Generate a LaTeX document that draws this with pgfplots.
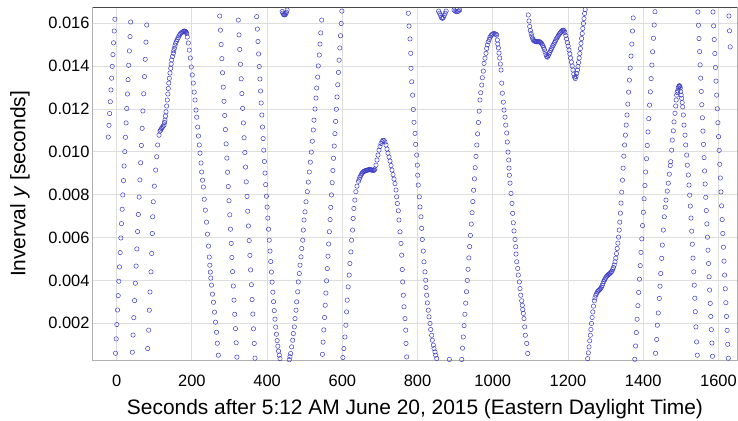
\documentclass[border=0pt]{standalone}
\usepackage{fontspec}
\setmainfont{Liberation Sans}
\usepackage{pgfplots}
\pgfplotsset{compat=1.18}
\definecolor{ptc}{RGB}{60,60,195}
\definecolor{gridc}{RGB}{222,222,222}
\definecolor{framec}{RGB}{175,175,175}
\definecolor{topc}{RGB}{70,70,70}
\begin{document}
\begin{tikzpicture}
\useasboundingbox (0,0) rectangle (738bp,421bp);
\begin{axis}[
  at={(92.7bp,61bp)}, anchor=south west,
  scale only axis, width=644.6bp, height=352.7bp,
  xmin=-63.8, xmax=1650.2, ymin=0.000286, ymax=0.016747,
  xtick={0,200,400,600,800,1000,1200,1400,1600},
  xticklabels={0,200,400,600,800,1000,1200,1400,1600},
  ytick={0.002,0.004,0.006,0.008,0.010,0.012,0.014,0.016},
  yticklabels={0.002,0.004,0.006,0.008,0.010,0.012,0.014,0.016},
  scaled ticks=false,
  major tick length=0pt,
  grid=major, major grid style={draw=gridc, line width=0.9bp},
  axis line style={draw=framec, line width=0.9bp},
  tick label style={font=\fontsize{16.5}{18}\selectfont},
  xticklabel style={anchor=base, yshift=-27bp, inner sep=0pt},
  yticklabel style={anchor=east, xshift=-3bp, inner sep=0pt},
]
\addplot[only marks, mark=o, mark size=2.2pt, mark options={draw=ptc, line width=0.5pt}] coordinates {
(-22.3,0.01069)(-20.5,0.01124)(-18.8,0.01179)(-17.0,0.01234)(-15.3,0.01289)(-13.5,0.01344)(-11.8,0.01399)(-10.0,0.01454)(-8.3,0.01509)(-6.5,0.01564)(-4.8,0.01619)
(-3.0,0.00060)(-1.3,0.00127)(0.5,0.00194)(2.2,0.00262)(4.0,0.00329)(5.7,0.00396)(7.5,0.00463)(9.2,0.00530)(11.0,0.00598)(12.7,0.00665)(14.5,0.00732)(16.2,0.00799)(18.0,0.00866)(19.7,0.00934)(21.5,0.01001)(23.2,0.01068)(25.0,0.01135)(26.7,0.01202)(28.5,0.01270)(30.2,0.01337)(32.0,0.01404)(33.7,0.01471)(35.5,0.01538)(37.2,0.01606)
(41.5,0.00065)(43.5,0.00145)(45.5,0.00226)(47.6,0.00306)(49.6,0.00387)(51.6,0.00467)(53.6,0.00547)(55.6,0.00628)(57.6,0.00708)(59.7,0.00789)(61.7,0.00869)(63.7,0.00949)(65.7,0.01030)(67.7,0.01110)(69.7,0.01191)(71.8,0.01271)(73.8,0.01351)(75.8,0.01432)(77.8,0.01512)(79.8,0.01592)
(82.4,0.00082)(85.1,0.00168)(86.7,0.00261)(88.5,0.00346)(91.2,0.00440)(93.1,0.00526)(94.7,0.00619)(95.7,0.00697)(97.3,0.00767)(100.0,0.00840)(103.7,0.00915)(106.4,0.00977)(109.0,0.01032)(112.5,0.01078)(115.1,0.01097)(117.0,0.01102)(119.1,0.01109)(121.2,0.01114)(123.1,0.01120)(125.8,0.01125)(127.1,0.01137)(128.4,0.01148)(129.8,0.01167)(131.1,0.01187)(132.9,0.01214)(134.5,0.01242)(135.9,0.01270)(137.2,0.01296)(138.5,0.01321)(139.9,0.01343)(141.7,0.01368)(143.6,0.01390)(144.9,0.01410)(146.2,0.01429)(148.4,0.01445)(150.5,0.01460)(151.8,0.01472)(153.2,0.01483)(155.0,0.01495)(156.9,0.01507)(159.0,0.01516)(161.1,0.01525)(163.5,0.01533)(165.7,0.01541)(167.8,0.01547)(170.2,0.01553)(172.8,0.01557)(175.5,0.01559)(177.6,0.01562)(179.8,0.01564)(181.6,0.01563)(183.5,0.01561)(184.8,0.01557)(186.1,0.01553)
(187.7,0.01536)(190.4,0.01508)(193.0,0.01475)(195.7,0.01438)(198.4,0.01396)(201.0,0.01359)(203.7,0.01321)(206.1,0.01279)(208.2,0.01242)(210.9,0.01195)(212.7,0.01162)(215.4,0.01116)(217.5,0.01074)(219.6,0.01032)(221.5,0.00994)(224.2,0.00948)(226.0,0.00906)(228.2,0.00868)(230.3,0.00836)(232.9,0.00779)(235.6,0.00728)(238.8,0.00672)(241.4,0.00616)(244.1,0.00560)(246.2,0.00509)(247.6,0.00471)(248.9,0.00439)(250.2,0.00411)(252.1,0.00378)(254.7,0.00336)(257.4,0.00298)(260.1,0.00252)(262.7,0.00205)(265.4,0.00158)(267.5,0.00107)(270.2,0.00051)
(273.9,0.01634)(275.8,0.01568)(277.7,0.01501)(279.6,0.01435)(281.5,0.01369)(283.4,0.01302)(285.3,0.01236)(287.2,0.01170)(289.1,0.01104)(291.0,0.01037)(292.9,0.00971)(294.8,0.00905)(296.7,0.00838)(298.7,0.00772)(300.6,0.00706)(302.5,0.00639)(304.4,0.00573)(306.3,0.00507)(308.2,0.00441)(310.1,0.00374)(312.0,0.00308)(313.9,0.00242)(315.8,0.00175)(317.7,0.00109)(319.6,0.00042)
(323.3,0.01615)(325.2,0.01546)(327.2,0.01478)(329.1,0.01409)(331.0,0.01341)(332.9,0.01272)(334.9,0.01203)(336.8,0.01135)(338.7,0.01066)(340.7,0.00997)(342.6,0.00929)(344.5,0.00860)(346.5,0.00792)(348.4,0.00723)(350.3,0.00654)(352.3,0.00586)(354.2,0.00517)(356.1,0.00449)(358.1,0.00380)(360.0,0.00311)(361.9,0.00243)(363.8,0.00174)(365.8,0.00106)(367.7,0.00037)
(372.3,0.01631)(374.0,0.01573)(375.7,0.01515)(377.4,0.01457)(379.1,0.01398)(380.8,0.01340)(382.5,0.01284)(384.2,0.01228)(385.9,0.01172)(387.6,0.01116)(389.3,0.01062)(391.0,0.01008)(392.7,0.00955)(394.4,0.00901)
(396.2,0.00847)(398.1,0.00793)(400.0,0.00742)(401.9,0.00691)(403.8,0.00639)(405.7,0.00588)(407.6,0.00537)(409.5,0.00488)(411.4,0.00439)(413.3,0.00392)(415.2,0.00345)(417.1,0.00301)(419.0,0.00259)(420.9,0.00219)(422.8,0.00182)(424.7,0.00149)(426.6,0.00119)(428.5,0.00093)(430.4,0.00070)(432.3,0.00051)(434.2,0.00035)
(439.9,0.01655)(441.8,0.01647)(443.7,0.01641)(445.6,0.01639)(447.5,0.01640)(449.4,0.01644)(451.3,0.01651)(453.2,0.01662)
(458.9,0.00030)(460.7,0.00044)(462.6,0.00059)(465.3,0.00090)(468.0,0.00121)(469.6,0.00152)(472.3,0.00183)(474.1,0.00222)(476.8,0.00261)(478.6,0.00300)(481.3,0.00347)(482.9,0.00393)(485.6,0.00432)(487.4,0.00471)(490.1,0.00510)(492.0,0.00549)(494.6,0.00588)(496.2,0.00635)(498.1,0.00682)(500.7,0.00720)(503.4,0.00767)(506.8,0.00814)(509.5,0.00859)(512.1,0.00906)(514.8,0.00952)(517.5,0.00999)(520.1,0.01050)(522.8,0.01102)(524.6,0.01148)(527.3,0.01200)(529.9,0.01251)(531.8,0.01298)(534.5,0.01349)(536.1,0.01401)(538.7,0.01452)(540.6,0.01503)(542.5,0.01555)(545.1,0.01615)
(547.0,0.00055)(548.9,0.00112)(550.7,0.00169)(552.6,0.00227)(554.4,0.00284)(556.3,0.00341)(558.1,0.00398)(560.0,0.00455)(561.8,0.00513)(563.7,0.00570)(565.5,0.00627)(567.4,0.00684)(569.2,0.00741)(571.1,0.00799)(572.9,0.00856)(574.8,0.00913)(576.6,0.00970)(578.5,0.01027)(580.3,0.01085)(582.2,0.01142)(584.0,0.01199)(585.9,0.01256)(587.7,0.01313)(589.6,0.01371)(591.4,0.01428)(593.3,0.01485)(595.1,0.01542)(597.0,0.01599)(598.8,0.01657)
(601.5,0.00040)(604.1,0.00082)(606.8,0.00136)(609.4,0.00191)(611.3,0.00253)(612.9,0.00308)(615.5,0.00370)(618.2,0.00425)(620.0,0.00479)(622.7,0.00533)(624.6,0.00588)(627.2,0.00635)(628.8,0.00689)(630.7,0.00736)(633.3,0.00775)(636.0,0.00814)
(638.9,0.00840)(642.9,0.00863)(644.9,0.00873)(646.9,0.00882)(648.9,0.00889)(650.9,0.00896)(652.9,0.00901)(654.9,0.00906)(656.9,0.00908)(658.9,0.00910)(660.9,0.00912)(662.9,0.00913)(664.9,0.00914)(666.9,0.00915)(668.9,0.00916)(670.9,0.00917)(672.9,0.00917)(674.9,0.00917)(676.9,0.00916)(678.9,0.00915)(680.9,0.00914)(682.9,0.00913)(684.9,0.00915)(686.8,0.00920)(689.5,0.00938)(692.2,0.00962)(694.8,0.00985)(697.5,0.01008)(700.1,0.01025)(702.8,0.01039)(705.4,0.01048)(708.1,0.01054)(710.8,0.01053)(713.4,0.01046)(716.1,0.01032)(718.7,0.01013)(721.4,0.00994)(724.1,0.00976)(726.7,0.00957)(729.4,0.00936)(732.1,0.00915)(734.7,0.00894)(737.4,0.00873)(740.0,0.00852)(742.7,0.00822)(744.5,0.00790)(746.1,0.00759)(748.8,0.00725)(750.6,0.00682)(753.3,0.00627)(755.9,0.00573)(757.8,0.00518)(759.4,0.00451)(760.5,0.00393)(762.1,0.00331)(763.9,0.00277)(766.6,0.00222)(768.5,0.00168)(769.3,0.00106)(771.1,0.00043)
(775.4,0.01647)(777.2,0.01587)(779.9,0.01527)(781.8,0.01460)(782.5,0.01390)(784.4,0.01327)(787.0,0.01265)(788.7,0.01198)(790.5,0.01138)(793.2,0.01086)(795.0,0.01035)(797.7,0.00985)(799.3,0.00938)(800.4,0.00891)(801.9,0.00845)(804.6,0.00790)(806.5,0.00743)(809.1,0.00697)(811.0,0.00643)(812.6,0.00591)(815.3,0.00537)(817.1,0.00487)(819.8,0.00440)(821.7,0.00401)(822.4,0.00367)(824.3,0.00331)(825.9,0.00295)(828.5,0.00261)(830.4,0.00230)(833.1,0.00199)(834.9,0.00171)(837.6,0.00144)(839.2,0.00121)(841.9,0.00098)(843.7,0.00082)(846.4,0.00066)(848.2,0.00051)(850.9,0.00036)
(856.0,0.01657)(858.5,0.01647)(861.0,0.01637)(863.5,0.01627)(866.0,0.01623)(868.5,0.01627)(871.0,0.01637)(873.5,0.01647)(876.0,0.01657)(884.5,0.00031)(897.0,0.01662)(900.0,0.01657)(903.0,0.01655)(906.0,0.01655)(909.0,0.01657)(912.0,0.01662)
(917.4,0.00031)(919.5,0.00084)(921.6,0.00136)(923.7,0.00189)(925.9,0.00242)(928.0,0.00294)(930.1,0.00347)(932.2,0.00400)(934.3,0.00452)(936.4,0.00505)(938.5,0.00558)(940.6,0.00610)(942.8,0.00663)(944.9,0.00716)(947.0,0.00768)(949.1,0.00821)(951.2,0.00874)(953.3,0.00926)(955.4,0.00979)(957.5,0.01032)(959.7,0.01084)(961.8,0.01137)(963.9,0.01190)(966.0,0.01242)
(967.9,0.01276)(970.6,0.01312)(972.2,0.01346)(974.8,0.01377)(976.7,0.01413)(979.3,0.01437)(982.0,0.01460)(983.8,0.01483)(985.4,0.01499)(988.1,0.01514)(990.7,0.01525)(992.6,0.01535)(995.3,0.01542)(997.1,0.01547)(999.8,0.01550)(1003.2,0.01553)(1005.9,0.01550)(1008.6,0.01549)(1010.4,0.01545)
(1012.1,0.01522)(1013.4,0.01503)(1014.8,0.01485)(1016.6,0.01461)(1018.5,0.01438)(1020.1,0.01410)(1021.9,0.01382)(1023.8,0.01321)(1025.3,0.01274)(1028.0,0.01232)(1029.9,0.01195)(1032.5,0.01162)(1034.4,0.01125)(1037.1,0.01088)(1038.6,0.01046)(1040.5,0.00999)(1042.4,0.00962)(1043.2,0.00924)(1044.0,0.00891)(1045.8,0.00854)(1048.5,0.00806)(1051.2,0.00759)(1053.0,0.00713)(1054.6,0.00669)(1056.5,0.00631)(1059.1,0.00591)(1061.0,0.00557)(1061.8,0.00523)(1063.7,0.00487)(1066.3,0.00456)(1067.9,0.00425)(1070.6,0.00393)(1072.4,0.00362)(1074.3,0.00331)(1076.9,0.00305)(1078.5,0.00284)(1079.6,0.00264)(1081.2,0.00246)(1083.0,0.00222)(1084.9,0.00183)(1086.5,0.00144)(1090.2,0.00106)(1092.9,0.00059)
(1094.4,0.01639)(1096.3,0.01611)(1098.2,0.01585)(1100.0,0.01566)(1101.9,0.01552)(1103.8,0.01541)(1105.6,0.01530)(1107.5,0.01523)(1109.6,0.01519)(1111.7,0.01516)(1113.9,0.01515)(1116.0,0.01514)(1118.1,0.01514)(1120.2,0.01514)(1122.4,0.01514)(1124.5,0.01514)(1126.6,0.01511)(1128.8,0.01508)(1130.9,0.01503)(1133.0,0.01496)(1135.1,0.01488)(1137.3,0.01478)(1139.4,0.01466)(1141.5,0.01454)(1143.4,0.01445)(1145.2,0.01442)(1147.4,0.01449)(1149.5,0.01457)(1151.6,0.01464)(1153.8,0.01473)(1155.9,0.01481)(1158.0,0.01489)(1160.1,0.01496)(1162.3,0.01503)(1164.4,0.01511)(1166.5,0.01518)(1168.6,0.01526)(1170.8,0.01532)(1172.9,0.01538)(1175.0,0.01545)(1177.1,0.01550)(1179.3,0.01555)(1181.4,0.01559)(1183.5,0.01564)(1185.7,0.01567)(1187.8,0.01568)(1189.9,0.01565)(1192.0,0.01557)(1194.2,0.01543)(1196.3,0.01527)(1198.4,0.01510)(1200.5,0.01494)(1202.7,0.01475)(1204.8,0.01457)(1206.9,0.01438)(1209.1,0.01419)(1211.2,0.01401)(1213.3,0.01382)(1215.4,0.01363)(1217.6,0.01349)(1219.4,0.01342)(1221.3,0.01352)(1223.1,0.01366)(1225.0,0.01382)(1226.6,0.01398)(1228.2,0.01417)(1229.8,0.01438)(1231.4,0.01459)(1233.0,0.01482)(1234.6,0.01506)(1236.2,0.01529)(1237.8,0.01552)(1239.4,0.01576)(1241.0,0.01599)(1242.6,0.01622)(1244.2,0.01646)(1245.7,0.01664)
(1252.4,0.00035)(1254.0,0.00062)(1255.9,0.00090)(1257.7,0.00118)(1259.3,0.00144)(1260.9,0.00171)(1262.5,0.00199)(1264.1,0.00227)(1266.0,0.00253)(1267.8,0.00280)(1270.0,0.00305)(1271.8,0.00319)(1273.9,0.00331)(1276.1,0.00339)(1278.2,0.00346)(1280.3,0.00351)(1282.4,0.00354)(1284.6,0.00358)(1286.7,0.00362)(1288.8,0.00368)(1291.0,0.00377)(1293.1,0.00386)(1295.2,0.00395)(1297.3,0.00403)(1299.5,0.00410)(1301.6,0.00416)(1303.7,0.00421)(1305.8,0.00425)(1308.0,0.00428)(1310.1,0.00431)(1312.2,0.00434)(1314.3,0.00438)(1316.5,0.00442)(1318.6,0.00450)(1320.7,0.00460)(1322.9,0.00472)(1325.0,0.00487)(1327.1,0.00504)(1329.0,0.00525)(1330.8,0.00549)(1332.7,0.00574)(1334.6,0.00602)(1336.2,0.00635)(1337.7,0.00672)(1339.3,0.00714)(1340.9,0.00761)(1342.8,0.00812)(1344.7,0.00868)(1346.5,0.00924)(1348.4,0.00980)(1350.5,0.01032)(1352.6,0.01078)(1354.8,0.01125)(1356.9,0.01172)(1359.0,0.01223)(1361.1,0.01279)(1363.3,0.01335)(1365.4,0.01391)(1367.5,0.01447)(1369.7,0.01503)(1371.5,0.01564)(1373.4,0.01625)
(1377.6,0.00032)(1379.7,0.00094)(1381.7,0.00157)(1383.8,0.00219)(1385.9,0.00282)(1387.9,0.00344)(1390.0,0.00406)(1392.1,0.00469)(1394.1,0.00531)(1396.2,0.00594)(1398.3,0.00656)(1400.3,0.00718)(1402.4,0.00781)(1404.5,0.00843)(1406.5,0.00906)(1408.6,0.00968)(1410.7,0.01030)(1412.7,0.01093)(1414.8,0.01155)(1416.9,0.01218)(1418.9,0.01280)(1421.0,0.01342)(1423.1,0.01405)(1425.1,0.01467)(1427.2,0.01530)(1429.3,0.01592)(1431.3,0.01654)
(1432.7,0.00060)(1435.9,0.00124)(1437.5,0.00191)(1440.1,0.00248)(1442.8,0.00316)(1444.6,0.00373)(1446.5,0.00432)(1449.2,0.00503)(1450.8,0.00565)(1453.4,0.00635)(1456.1,0.00697)(1458.7,0.00742)(1460.6,0.00775)(1464.0,0.00817)(1466.7,0.00854)(1469.4,0.00896)(1471.8,0.00936)(1473.1,0.00954)(1475.7,0.01008)(1477.3,0.01055)(1480.0,0.01098)(1481.9,0.01140)(1484.5,0.01180)(1486.4,0.01214)(1487.7,0.01242)(1489.0,0.01265)(1490.4,0.01277)(1491.7,0.01285)(1493.3,0.01299)(1494.6,0.01305)(1496.0,0.01309)(1497.3,0.01306)(1498.6,0.01298)(1499.7,0.01281)(1501.0,0.01265)(1502.3,0.01250)(1503.7,0.01230)(1505.0,0.01210)(1506.6,0.01172)(1508.5,0.01125)(1511.1,0.01078)(1513.0,0.01032)(1515.6,0.00985)(1517.2,0.00938)(1519.9,0.00892)(1521.8,0.00845)(1523.6,0.00798)(1525.2,0.00747)(1527.1,0.00691)(1528.9,0.00630)(1530.5,0.00569)(1532.4,0.00504)(1534.3,0.00440)(1535.8,0.00378)(1537.2,0.00317)(1538.5,0.00254)(1540.1,0.00183)(1542.0,0.00113)(1543.8,0.00051)
(1545.4,0.01653)(1546.9,0.01591)(1548.4,0.01529)(1549.9,0.01468)(1551.4,0.01406)(1552.9,0.01344)(1554.4,0.01282)(1555.8,0.01220)(1557.3,0.01159)(1558.8,0.01097)(1560.3,0.01035)(1561.8,0.00973)(1563.3,0.00911)(1564.8,0.00850)(1566.3,0.00788)(1567.8,0.00726)(1569.3,0.00664)(1570.8,0.00602)(1572.3,0.00541)(1573.7,0.00479)(1575.2,0.00417)(1576.7,0.00355)(1578.2,0.00293)(1579.7,0.00232)(1581.2,0.00170)(1582.7,0.00108)(1584.2,0.00046)
(1585.6,0.01653)(1587.2,0.01588)(1588.9,0.01524)(1590.5,0.01459)(1592.1,0.01394)(1593.7,0.01330)(1595.4,0.01265)(1597.0,0.01201)(1598.6,0.01136)(1600.3,0.01071)(1601.9,0.01007)(1603.5,0.00942)(1605.1,0.00878)(1606.8,0.00813)(1608.4,0.00748)(1610.0,0.00684)(1611.6,0.00619)(1613.3,0.00555)(1614.9,0.00490)(1616.5,0.00425)(1618.2,0.00361)(1619.8,0.00296)(1621.4,0.00232)(1623.0,0.00167)(1624.7,0.00102)(1626.3,0.00037)
(1628.0,0.01634)(1629.6,0.01565)(1631.3,0.01490)
};
\end{axis}
\draw[topc, line width=0.9bp] (92.7bp,413.7bp) -- (737.3bp,413.7bp);
\node[anchor=base, font=\fontsize{21}{24}\selectfont, inner sep=0pt] at (415bp,7bp) {Seconds after 5:12 AM June 20, 2015 (Eastern Daylight Time)};
\node[anchor=center, rotate=90, font=\fontsize{21}{24}\selectfont, inner sep=0pt] at (20bp,237bp) {Inverval \textit{y} [seconds]};
\end{tikzpicture}
\end{document}
